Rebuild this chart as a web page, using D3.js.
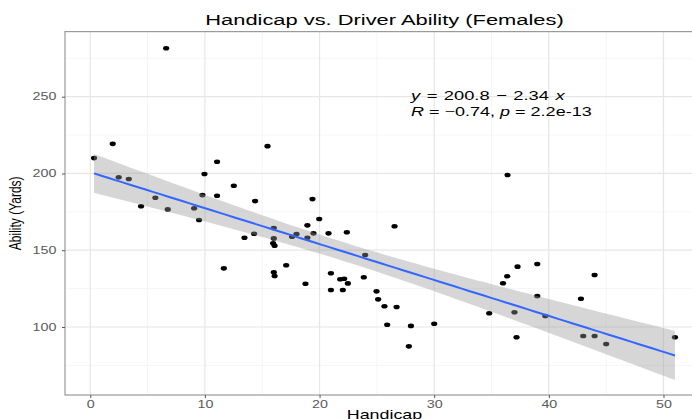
<!DOCTYPE html>
<html>
<head>
<meta charset="utf-8">
<script src="https://cdn.jsdelivr.net/npm/d3@7"></script>
<style>
  html, body { margin: 0; padding: 0; background: #fff; }
  svg { display: block; font-family: "Liberation Sans", Arial, Helvetica, sans-serif; }
</style>
</head>
<body>
<svg id="chart" width="692" height="419"></svg>
<script>
// Golf data: handicap vs. driver distance (yards), female players
const handicap = [
  0.33, 1.96, 2.48, 3.36, 4.43, 5.68, 6.62, 6.76, 9.06, 9.49,
  9.78, 9.96, 11.06, 11.06, 11.65, 12.52, 13.45, 14.29, 14.38, 15.46,
  16.01, 16.01, 15.95, 16.08, 16.01, 16.08, 17.09, 17.6, 17.99, 18.94,
  18.94, 19.38, 19.47, 19.97, 18.77, 20.78, 20.99, 20.99, 21.8, 22.15,
  22.03, 22.38, 22.47, 23.86, 23.98, 24.97, 25.11, 25.66, 25.9, 26.54,
  26.72, 27.79, 27.97, 30.0, 34.8, 36.0, 36.37, 36.4, 37.0, 37.18,
  37.27, 38.99, 38.99, 39.69, 42.8, 43.0, 43.99, 43.99, 45.0, 51.0
];
const ability = [
  210.0, 219.3, 197.5, 196.4, 178.6, 184.2, 281.6, 176.6, 177.3, 169.7,
  185.9, 199.6, 207.6, 185.5, 138.2, 192.0, 158.1, 160.7, 182.0, 217.8,
  164.5, 157.7, 154.5, 152.9, 135.6, 133.2, 140.2, 158.8, 160.5, 166.2,
  158.1, 183.3, 161.0, 170.3, 128.2, 161.0, 135.0, 124.1, 131.1, 131.4,
  124.1, 161.7, 128.4, 132.4, 146.9, 123.2, 118.0, 113.5, 101.5, 165.6,
  113.0, 87.4, 100.7, 102.1, 108.9, 128.5, 133.0, 199.0, 109.6, 93.3,
  139.3, 141.0, 120.2, 107.2, 118.4, 94.1, 133.9, 94.1, 88.9, 93.3
];

// Fitted model as reported
const fitIntercept = 200.8;
const fitSlope = -2.34;
const corrR = -0.74;
const pValue = "2.2e-13";

const xTicks = [0, 10, 20, 30, 40, 50];
const xMinorTicks = [5, 15, 25, 35, 45];
const yTicks = [100, 150, 200, 250];
const yMinorTicks = [75, 125, 175, 225, 275];

const titleText = "Handicap vs. Driver Ability (Females)";
const xTitle = "Handicap";
const yTitle = "Ability (Yards)";

// Horizontal stretch applied to text glyphs
const SX = 1.43;

const svg = d3.select("#chart");
const panel = { left: 65, right: 704, top: 31.6, bottom: 395 };

const n = handicap.length;
const xExt = d3.extent(handicap);
const xPad = (xExt[1] - xExt[0]) * 0.05;

const x = d3.scaleLinear()
  .domain([xExt[0] - xPad, xExt[1] + xPad])
  .range([panel.left, panel.right]);
const y = d3.scaleLinear()
  .domain([55.7, 292.4])
  .range([panel.bottom, panel.top]);

// 95% confidence band around the reported line
const xbar = d3.mean(handicap);
const sxx = d3.sum(handicap, v => (v - xbar) ** 2);
const sse = d3.sum(handicap, (v, i) => (ability[i] - (fitIntercept + fitSlope * v)) ** 2);
const s = Math.sqrt(sse / (n - 2));
const tCrit = 1.995;
const bandX = d3.range(80).map(i => xExt[0] + (xExt[1] - xExt[0]) * i / 79);
const band = bandX.map(v => {
  const fit = fitIntercept + fitSlope * v;
  const se = s * Math.sqrt(1 / n + (v - xbar) ** 2 / sxx);
  return { x: v, fit, lo: fit - tCrit * se, hi: fit + tCrit * se };
});

// Panel clip and grid
svg.append("clipPath").attr("id", "panel-clip")
  .append("rect")
  .attr("x", panel.left).attr("y", panel.top)
  .attr("width", panel.right - panel.left).attr("height", panel.bottom - panel.top);

const grid = svg.append("g").attr("clip-path", "url(#panel-clip)");
grid.selectAll("line.xminor").data(xMinorTicks).join("line")
  .attr("x1", d => x(d)).attr("x2", d => x(d))
  .attr("y1", panel.top).attr("y2", panel.bottom)
  .attr("stroke", "#f2f2f2").attr("stroke-width", 0.8);
grid.selectAll("line.yminor").data(yMinorTicks).join("line")
  .attr("y1", d => y(d)).attr("y2", d => y(d))
  .attr("x1", panel.left).attr("x2", panel.right)
  .attr("stroke", "#f2f2f2").attr("stroke-width", 0.8);
grid.selectAll("line.xmajor").data(xTicks).join("line")
  .attr("x1", d => x(d)).attr("x2", d => x(d))
  .attr("y1", panel.top).attr("y2", panel.bottom)
  .attr("stroke", "#e6e6e6").attr("stroke-width", 1.2);
grid.selectAll("line.ymajor").data(yTicks).join("line")
  .attr("y1", d => y(d)).attr("y2", d => y(d))
  .attr("x1", panel.left).attr("x2", panel.right)
  .attr("stroke", "#e6e6e6").attr("stroke-width", 1.2);

// Points
const plot = svg.append("g").attr("clip-path", "url(#panel-clip)");
plot.selectAll("ellipse").data(handicap).join("ellipse")
  .attr("cx", d => x(d))
  .attr("cy", (d, i) => y(ability[i]))
  .attr("rx", 3.1).attr("ry", 2.3)
  .attr("fill", "#000");

// Ribbon and fitted line drawn over the points
plot.append("path").datum(band)
  .attr("d", d3.area().x(d => x(d.x)).y0(d => y(d.lo)).y1(d => y(d.hi)))
  .attr("fill", "#999999").attr("fill-opacity", 0.4);
plot.append("path").datum(band)
  .attr("d", d3.line().x(d => x(d.x)).y(d => y(d.fit)))
  .attr("fill", "none").attr("stroke", "#3366FF").attr("stroke-width", 2);

// Panel border
svg.append("rect")
  .attr("x", panel.left).attr("y", panel.top)
  .attr("width", panel.right - panel.left).attr("height", panel.bottom - panel.top)
  .attr("fill", "none").attr("stroke", "#9a9a9a").attr("stroke-width", 1.2);

// Axes
const xAxis = svg.append("g")
  .attr("transform", `translate(0,${panel.bottom})`)
  .call(d3.axisBottom(x).tickValues(xTicks).tickSize(3).tickPadding(3));
const yAxis = svg.append("g")
  .attr("transform", `translate(${panel.left},0)`)
  .call(d3.axisLeft(y).tickValues(yTicks).tickSize(3).tickPadding(3));
[xAxis, yAxis].forEach(ax => {
  ax.select(".domain").remove();
  ax.selectAll(".tick line").attr("stroke", "#555").attr("stroke-width", 1);
  ax.selectAll(".tick text")
    .attr("fill", "#5a5a5a")
    .attr("font-size", 10)
    .attr("font-family", "Liberation Sans, Arial, sans-serif")
    .attr("transform", `scale(${SX},1)`);
});

// Title and axis titles
function stretchedText(xp, yp, txt, size, anchor, sx, extra) {
  return svg.append("text")
    .attr("transform", `translate(${xp},${yp}) scale(${sx},1)${extra || ""}`)
    .attr("text-anchor", anchor)
    .attr("font-size", size)
    .attr("fill", "#000")
    .text(txt);
}
stretchedText((panel.left + panel.right) / 2, 24.5, titleText, 14.3, "middle", 1.53);
stretchedText((panel.left + panel.right) / 2, 419, xTitle, 12.5, "middle", SX);
stretchedText(21, (panel.top + panel.bottom) / 2, yTitle, 12, "middle", SX, " rotate(-90)");

// Regression annotation
const fmtMinus = v => (v < 0 ? "\u2212" : "") + Math.abs(v);
const eq = svg.append("text")
  .attr("transform", `translate(411,100) scale(${SX},1)`)
  .attr("font-size", 12.8).attr("fill", "#000").attr("word-spacing", 1);
eq.append("tspan").attr("font-style", "italic").text("y");
eq.append("tspan").text(` = ${fitIntercept} ${fitSlope < 0 ? "\u2212" : "+"} ${Math.abs(fitSlope).toFixed(2)} `);
eq.append("tspan").attr("font-style", "italic").text("x");

const rp = svg.append("text")
  .attr("transform", `translate(411,116) scale(${SX},1)`)
  .attr("font-size", 12.6).attr("fill", "#000");
rp.append("tspan").attr("font-style", "italic").text("R");
rp.append("tspan").text(` = ${fmtMinus(corrR)}, `);
rp.append("tspan").attr("font-style", "italic").text("p");
rp.append("tspan").text(` = ${pValue}`);
</script>
</body>
</html>
